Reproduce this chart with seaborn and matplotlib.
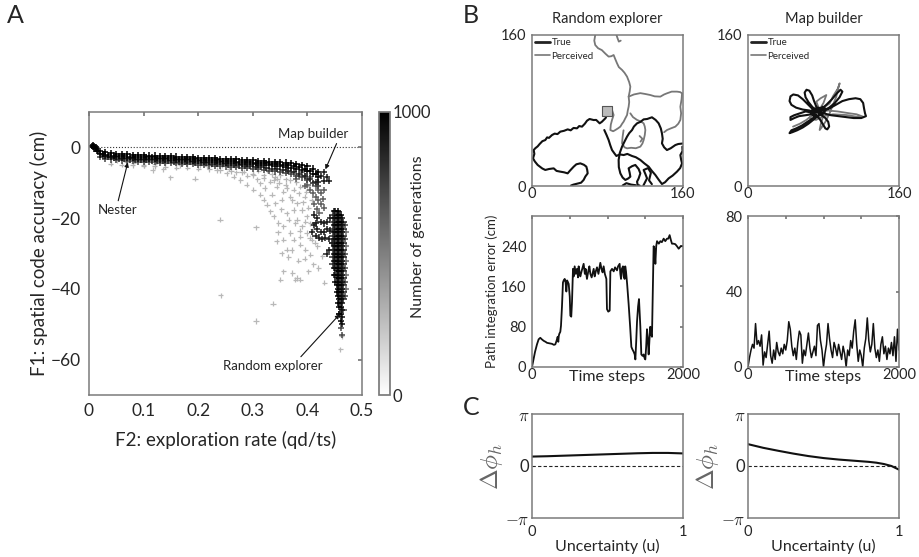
import numpy as np
import pandas as pd
import matplotlib
matplotlib.use("Agg")
import matplotlib.pyplot as plt
import seaborn as sns
from matplotlib.colors import Normalize
from matplotlib.cm import ScalarMappable
from matplotlib.lines import Line2D

# ---------------- DATA ----------------
# Panel A: ridge of the front (x every 0.01 from 0.02 to 0.42)
ridge_x = [0.02, 0.03, 0.04, 0.05, 0.06, 0.07, 0.08, 0.09, 0.10, 0.11, 0.12, 0.13, 0.14, 0.15,
           0.16, 0.17, 0.18, 0.19, 0.20, 0.21, 0.22, 0.23, 0.24, 0.25, 0.26, 0.27, 0.28, 0.29,
           0.30, 0.31, 0.32, 0.33, 0.34, 0.35, 0.36, 0.37, 0.38, 0.39, 0.40, 0.41, 0.42]
ridge_top = [-1.0, -1.4, -1.6, -1.8, -1.9, -2.0, -2.1, -2.2, -2.2, -2.3, -2.3, -2.4, -2.4, -2.5,
             -2.6, -2.7, -2.7, -2.8, -2.9, -3.0, -3.0, -3.1, -3.2, -3.3, -3.3, -3.4, -3.5, -3.6,
             -3.7, -3.8, -3.9, -4.0, -4.1, -4.2, -4.3, -4.5, -4.7, -5.0, -5.4, -6.0, -7.0]
ridge_mid = [-2.0, -2.4, -2.6, -2.8, -2.9, -3.0, -3.1, -3.2, -3.2, -3.3, -3.3, -3.4, -3.4, -3.5,
             -3.6, -3.7, -3.7, -3.8, -3.9, -4.0, -4.0, -4.1, -4.2, -4.3, -4.4, -4.5, -4.6, -4.7,
             -4.8, -4.9, -5.0, -5.1, -5.3, -5.4, -5.6, -5.8, -6.0, -6.3, -6.8, -7.5, -8.5]
ridge_low = [-2.8, -3.2, -3.4, -3.6, -3.7, -3.8, -3.9, -4.0, -4.0, -4.1, -4.2, -4.3, -4.3, -4.4,
             -4.5, -4.6, -4.7, -4.8, -4.9, -5.0, -5.1, -5.2, -5.3, -5.4, -5.5, -5.6, -5.8, -5.9,
             -6.0, -6.2, -6.4, -6.6, -6.8, -7.0, -7.3, -7.6, -8.0, -8.5, -9.2, -10.0, -11.0]
# intermediate ridge rows (x at half steps)
ridge_xh = [0.025, 0.035, 0.045, 0.055, 0.065, 0.075, 0.085, 0.095, 0.105, 0.115, 0.125, 0.135,
            0.145, 0.155, 0.165, 0.175, 0.185, 0.195, 0.205, 0.215, 0.225, 0.235, 0.245, 0.255,
            0.265, 0.275, 0.285, 0.295, 0.305, 0.315, 0.325, 0.335, 0.345, 0.355, 0.365, 0.375,
            0.385, 0.395, 0.405, 0.415]
ridge_h_up = [-1.8, -2.1, -2.3, -2.4, -2.5, -2.6, -2.7, -2.7, -2.8, -2.8, -2.9, -2.9, -3.0, -3.1,
              -3.2, -3.2, -3.3, -3.4, -3.5, -3.5, -3.6, -3.7, -3.8, -3.8, -3.9, -4.0, -4.1, -4.2,
              -4.3, -4.4, -4.5, -4.6, -4.8, -4.9, -5.1, -5.3, -5.6, -6.0, -6.6, -7.4]
ridge_h_lo = [-2.4, -2.8, -3.0, -3.2, -3.3, -3.4, -3.5, -3.6, -3.6, -3.7, -3.8, -3.8, -3.9, -4.0,
              -4.1, -4.2, -4.2, -4.3, -4.4, -4.5, -4.6, -4.7, -4.8, -4.9, -5.0, -5.1, -5.2, -5.3,
              -5.5, -5.6, -5.8, -6.0, -6.1, -6.4, -6.7, -7.0, -7.4, -8.0, -8.8, -9.8]
shadow_x = [0.04, 0.06, 0.08, 0.10, 0.12, 0.14, 0.16, 0.18, 0.20, 0.22, 0.24, 0.26, 0.28, 0.30,
            0.32, 0.34, 0.36, 0.38, 0.40]
shadow_y = [-4.6, -4.9, -5.1, -5.2, -5.4, -5.5, -5.7, -5.8, -6.0, -6.2, -6.4, -6.7, -7.0, -7.4,
            -7.9, -8.4, -9.0, -9.8, -10.8]
hook_pts = [(0.005, 0.5), (0.008, 0.7), (0.010, 0.4), (0.012, 0.0), (0.013, -0.5),
            (0.015, -0.9), (0.010, -0.3), (0.007, 0.2), (0.017, -1.1)]
light_pts = [(0.117, -6.4), (0.136, -6.2), (0.149, -8.5), (0.194, -8.9), (0.179, -4.5),
             (0.216, -5.4), (0.234, -6.4), (0.252, -7.3), (0.265, -8.3), (0.277, -9.2),
             (0.289, -10.6), (0.301, -12.0), (0.314, -13.4), (0.320, -14.8), (0.326, -16.2),
             (0.332, -18.1), (0.338, -19.5), (0.347, -21.4), (0.356, -22.3), (0.369, -24.2),
             (0.375, -26.1), (0.387, -27.5), (0.396, -28.9), (0.405, -30.3), (0.356, -26.1),
             (0.362, -28.9), (0.344, -26.6), (0.353, -29.9), (0.372, -35.5), (0.381, -36.9),
             (0.350, -37.4), (0.356, -35.0), (0.378, -37.4), (0.387, -37.4), (0.431, -38.3),
             (0.240, -20.5), (0.306, -22.6), (0.241, -41.8), (0.306, -49.1), (0.337, -44.2),
             (0.268, -5.4), (0.283, -6.9), (0.301, -7.8), (0.320, -8.7), (0.332, -9.7),
             (0.344, -11.1), (0.356, -12.5), (0.369, -13.9), (0.381, -15.8), (0.390, -17.7),
             (0.399, -19.5), (0.375, -17.7), (0.362, -18.6), (0.381, -20.5), (0.390, -22.3),
             (0.399, -24.2), (0.408, -26.1), (0.418, -28.0), (0.387, -25.2), (0.295, -5.4),
             (0.326, -6.4), (0.350, -7.8), (0.369, -9.2), (0.387, -11.1), (0.338, -9.2),
             (0.314, -10.1), (0.353, -14.8), (0.341, -15.8), (0.335, -13.4), (0.069, -4.0),
             (0.081, -4.5), (0.051, -3.6), (0.100, -5.0), (0.167, -5.0), (0.204, -5.0),
             (0.411, -33.1), (0.420, -34.1), (0.427, -30.8), (0.460, -57.1), (0.463, -53.3),
             (0.310, -6.6), (0.345, -8.8), (0.360, -10.5), (0.375, -12.0), (0.395, -14.0),
             (0.405, -21.5), (0.395, -31.5), (0.402, -35.0), (0.365, -31.0), (0.383, -32.0),
             (0.335, -7.5), (0.348, -10.0), (0.362, -11.5), (0.372, -15.0), (0.384, -13.0),
             (0.392, -15.5), (0.398, -12.5), (0.402, -17.0), (0.408, -15.0), (0.396, -21.0),
             (0.386, -23.5), (0.378, -21.5), (0.366, -20.5), (0.352, -17.5), (0.410, -23.0),
             (0.414, -27.0), (0.404, -25.5), (0.371, -29.0), (0.346, -24.0), (0.322, -11.5),
             (0.308, -9.0), (0.290, -8.0), (0.256, -6.0), (0.270, -7.0), (0.224, -4.8),
             (0.244, -5.2), (0.140, -4.5), (0.160, -4.8), (0.120, -4.7)]
mid_pts = [(0.390, -7.0), (0.395, -8.0), (0.400, -9.0), (0.405, -8.5), (0.410, -10.0),
           (0.415, -11.0), (0.420, -12.0), (0.410, -13.0), (0.415, -14.0), (0.420, -15.0),
           (0.425, -16.0), (0.430, -17.0), (0.405, -12.0), (0.400, -10.5), (0.418, -17.5),
           (0.425, -13.0), (0.430, -12.0), (0.385, -8.0), (0.370, -7.0), (0.360, -6.5),
           (0.380, -9.0), (0.395, -11.0), (0.422, -18.5), (0.428, -14.5), (0.412, -16.0)]
dark_pts = [(0.412, -19.0), (0.418, -20.0), (0.424, -21.0), (0.430, -21.5), (0.436, -21.0),
            (0.442, -20.0), (0.412, -22.0), (0.418, -23.0), (0.424, -24.0), (0.430, -24.0),
            (0.436, -23.0), (0.442, -23.5), (0.415, -25.0), (0.421, -25.5), (0.427, -26.0),
            (0.433, -25.5), (0.439, -26.0), (0.445, -27.0), (0.440, -29.0), (0.435, -30.0),
            (0.415, -21.5), (0.409, -24.0), (0.430, -7.0), (0.435, -8.5), (0.430, -9.5),
            (0.440, -9.5), (0.425, -8.0), (0.420, -9.8)]
# Random-explorer cluster: y values of each column
clu_446 = [-19, -21, -23, -25, -27, -29, -31, -33]
clu_4485 = [-18, -20, -22, -24, -26, -28, -30, -32, -34, -36]
clu_451 = [-18, -20, -22, -24, -26, -28, -30, -32, -34, -36, -38]
clu_4535 = [-19, -21, -23, -25, -27, -29, -31, -33, -35, -37, -39, -41]
clu_456 = [-18, -20, -22, -24, -26, -28, -30, -32, -34, -36, -38, -40, -42, -44]
clu_4585 = [-19, -21, -23, -25, -27, -29, -31, -33, -35, -37, -39, -41, -43, -45, -47]
clu_461 = [-19, -21, -23, -25, -27, -29, -31, -33, -35, -37, -39, -41, -43, -45, -47, -49]
clu_4635 = [-20, -22, -24, -26, -28, -30, -32, -34, -36, -38, -40, -42, -44, -46, -48, -50]
clu_466 = [-21, -23, -25, -27, -29, -31, -33, -35, -37, -39, -41, -43]
clu_4685 = [-22, -26, -30, -34, -38, -42]
clu_471 = [-24, -28, -32, -36, -40]
clu_tail = [(0.462, -51.0), (0.463, -53.0), (0.458, -47.0), (0.466, -46.0)]

# Panel B (top): trajectories (x, y) in cm
re_true_segs = [
    [(80, 77), (78, 72), (74, 68), (71.7, 66.4), (68, 70), (65.3, 69.9), (61, 71), (58.3, 69.2),
     (56, 66), (53, 62.9), (50, 63.5), (47.7, 61.1), (44, 61.5), (41, 59), (37.8, 60), (34, 58.5),
     (30, 57.6), (27, 55), (24, 55.5), (21.2, 54), (18, 51), (16, 51.5), (14.1, 48.7), (11, 47.5),
     (8.1, 44.5), (6, 42), (3.5, 40), (1.8, 38.1), (2.5, 34), (1.1, 29.3), (3, 26), (6, 22.3),
     (9, 20), (11, 18.5), (14.1, 17), (18, 18), (23, 18.7), (26, 16), (30, 15.2), (34, 14.5),
     (37.8, 13.4), (40, 16), (44.2, 20.5), (47, 23), (51.2, 24), (55, 22.5), (57.6, 20.5),
     (58.5, 17), (59, 13.4), (56.5, 10), (54.7, 6.4), (52, 3.5), (48, 2.5), (44, 1.5), (41.3, 0.5)],
    [(76.6, 59.3), (79, 54), (81.2, 48.7), (83, 43), (84.8, 38.1), (87, 35), (89.4, 31.8),
     (93, 33.5), (97.1, 32.8), (101, 34), (106, 31.8), (110, 30.5), (114.8, 27.6), (119, 24),
     (123.6, 20.5), (127, 16), (130.7, 11.7), (134, 7), (137.7, 2.1), (141, 4), (144.8, 8.1),
     (149, 11), (153.6, 15.2), (157, 19), (159, 24), (158, 28), (157.2, 32.8), (159.5, 37),
     (159.3, 41.7)],
    [(159.5, 45), (155, 44.5), (151.9, 43.4), (147, 40), (143, 38.1), (140, 41), (137.7, 45.2),
     (138.5, 50), (137.7, 55.8), (136.5, 61), (134.2, 66.4), (131, 70), (127.1, 72.8), (122, 71),
     (118.3, 70.6), (115, 68), (111.3, 66.4), (108, 63), (106, 59.3), (103, 56), (100.7, 52.3),
     (98, 47), (95.4, 41.7), (93, 35), (91.8, 27.6), (92, 20), (93.6, 13.4), (96, 9), (98.9, 6.4),
     (102, 8), (104.2, 9.9), (103.5, 14), (102.4, 18.7), (106, 21), (109.5, 22.3), (113, 18),
     (114.8, 13.4), (113, 8), (111.3, 4.6), (112, 1), (114, 0.5)],
    [(96, 0.5), (100, 3), (105, 1.5), (110, 0.8)],
    [(118, 0.5), (121.9, 8.1), (120, 13), (118.3, 17), (123, 19), (126, 14), (124, 6), (127, 2)],
]
re_perc_segs = [
    [(79.5, 78.8), (82, 80), (84.8, 80.5), (86.5, 75.2), (84.8, 70), (83.5, 65), (83, 59.3),
     (86, 58), (88.3, 59.3), (91, 61), (93.6, 62.9), (95.5, 66), (97.1, 68.2), (99, 72),
     (100.7, 75.2), (101.5, 80), (102.4, 84), (103, 89), (102.4, 94.7), (103.5, 100),
     (104.2, 105.3), (103, 110), (100.7, 115.9), (98, 120), (95.4, 123), (92, 126), (90.1, 130),
     (88, 135), (86.5, 138.8), (84, 137.5), (81.2, 137.1), (78, 140), (74, 144), (70, 146),
     (67, 149.4), (66, 154), (67, 160)],
    [(102.4, 94.7), (108, 97), (114.8, 98.4), (120, 97.5), (125.4, 96.4), (130, 95), (136, 94.7),
     (140, 97), (143, 98.2), (148, 100), (153.6, 100), (157, 99.5), (159, 98.2), (158.5, 92),
     (157.2, 84), (158, 77), (157.2, 70), (155, 66), (151.9, 62.9), (147, 61), (143, 59.3),
     (140, 57)],
    [(97, 59), (96, 52), (95.4, 45.2), (98, 41), (100.7, 39.9), (105, 40.5), (110, 40),
     (114.8, 41.7), (117, 45), (118.3, 48.7), (119.5, 54), (120.1, 59.3), (119.5, 63),
     (118.3, 66.4), (115, 68.5), (111.3, 70), (107, 73), (104.2, 77)],
    [(115, 47), (117, 50), (114, 53)],
    [(89.5, 160), (90.5, 157), (92, 153), (94, 154)],
]
re_start = [(79.5, 79.0)]
mb_true = [(72, 78), (68, 82), (63, 87), (58, 92), (53, 96), (48, 97), (45, 95), (44, 90),
           (46, 86), (51, 83), (58, 81), (65, 80), (72, 78), (77, 81), (83, 86), (89, 92),
           (94, 98), (98, 102), (100, 100), (97, 94), (92, 88), (86, 83), (80, 80), (86, 82),
           (93, 86), (100, 90), (107, 92), (114, 93), (119, 92), (122, 88), (123, 82), (124, 77),
           (125, 74), (120, 72), (112, 72), (104, 73), (96, 74), (88, 75), (80, 77), (74, 74),
           (69, 70), (64, 66), (58, 62), (52, 59), (47, 57), (44, 56), (46, 59), (51, 61),
           (57, 64), (63, 68), (69, 72), (72, 75), (67, 76), (61, 75), (54, 74), (49, 72),
           (45, 70), (45, 73), (49, 75), (55, 77), (61, 79), (67, 78), (72, 75), (76, 71),
           (79, 66), (82, 61), (84, 60), (86, 63), (85, 68), (82, 72), (78, 75), (75, 80),
           (72, 85), (70, 90), (68, 96), (65, 101), (62, 102), (60, 99), (61, 94), (64, 89),
           (68, 84), (71, 81), (74, 80), (77, 82), (79, 84), (82, 82), (81, 78), (78, 76),
           (75, 77), (72, 80), (69, 81), (67, 79), (68, 76), (71, 74), (75, 75), (78, 78),
           (78, 81), (75, 83), (72, 82), (70, 79)]
mb_perc = [(47.7, 62.9), (55, 66), (61.8, 70), (68, 75), (75.9, 78.8), (80, 83), (86.5, 87.5),
           (90, 95), (95.4, 103.5), (97.1, 108.8), (95, 102), (93.6, 94.7), (90, 86), (86.5, 77),
           (82, 68), (78, 62), (75.9, 59.3), (77, 65), (79.5, 73.5), (76, 80), (72.4, 89.4),
           (77, 93), (83, 96.4), (80, 88), (75, 80), (70, 76), (65, 72), (72, 70), (80, 74),
           (90, 76), (104.2, 75.2), (115, 73.5), (121.9, 73.5), (115, 76), (107.7, 77), (95, 79),
           (85, 80), (75, 78), (68, 80), (72, 84), (78, 77), (73, 74)]

# Panel B (bottom): path integration error (time step, cm)
re_err = [(0, 0), (20, 15), (40, 30), (66, 45), (88, 55), (110, 58), (130, 55), (155, 52),
          (180, 50), (199, 48), (230, 47), (265, 46), (290, 44), (309, 45), (325, 52), (340, 60),
          (348, 50), (355, 62), (362, 66), (375, 70), (384, 82), (397, 120), (410, 168),
          (420, 172), (433, 175), (445, 168), (455, 150), (465, 172), (472, 170), (486, 165),
          (500, 140), (508, 102), (520, 100), (530, 130), (543, 195), (552, 180), (565, 200),
          (580, 185), (596, 195), (610, 178), (618, 200), (630, 188), (640, 180), (660, 192),
          (684, 205), (700, 185), (710, 195), (728, 175), (745, 190), (760, 200), (773, 185),
          (790, 178), (817, 195), (830, 180), (845, 190), (861, 198), (880, 185), (905, 207),
          (920, 195), (935, 188), (949, 200), (965, 185), (985, 175), (990, 140), (993, 115),
          (1010, 110), (1029, 112), (1034, 150), (1038, 190), (1060, 195), (1082, 190),
          (1100, 198), (1126, 192), (1140, 200), (1161, 205), (1170, 185), (1179, 175),
          (1190, 195), (1205, 200), (1215, 180), (1227, 175), (1235, 200), (1245, 190),
          (1260, 165), (1280, 125), (1300, 80), (1316, 40), (1330, 35), (1347, 30), (1360, 25),
          (1369, 15), (1380, 50), (1391, 90), (1405, 120), (1417, 135), (1425, 110), (1435, 80),
          (1442, 50), (1448, 25), (1465, 22), (1479, 25), (1490, 18), (1501, 15), (1512, 40),
          (1523, 75), (1535, 55), (1545, 25), (1556, 55), (1567, 80), (1578, 65), (1589, 60),
          (1600, 150), (1611, 240), (1622, 235), (1634, 205), (1645, 240), (1656, 250),
          (1680, 245), (1700, 250), (1720, 248), (1744, 255), (1765, 250), (1788, 255),
          (1805, 255), (1823, 262), (1840, 252), (1854, 245), (1875, 245), (1898, 244),
          (1920, 240), (1943, 235), (1970, 240), (2000, 240)]
mb_err_t = list(range(0, 2001, 20))
mb_err = [0, 5, 9, 12, 10, 23, 12, 14, 11, 17, 1, 8, 5, 12, 19, 6, 2, 9, 4, 13,
          8, 6, 10, 7, 12, 9, 14, 24, 20, 11, 6, 10, 4, 13, 19, 17, 2, 9, 6, 12,
          18, 10, 5, 8, 11, 6, 22, 23, 14, 9, 0, 7, 12, 23, 15, 9, 5, 13, 10, 6,
          12, 8, 4, 11, 7, 0, 9, 6, 14, 10, 19, 25, 12, 3, 9, 6, 0, 10, 15, 26,
          14, 8, 12, 23, 10, 5, 9, 3, 12, 16, 7, 11, 4, 10, 7, 13, 6, 16, 3, 20, 9]

# Panel C: heading change vs uncertainty
unc_re = [0.0, 0.1, 0.2, 0.3, 0.4, 0.5, 0.6, 0.7, 0.8, 0.9, 1.0]
dphi_re = [0.57, 0.59, 0.62, 0.65, 0.68, 0.71, 0.74, 0.77, 0.79, 0.79, 0.76]
unc_mb = [0.0, 0.1, 0.2, 0.3, 0.4, 0.5, 0.6, 0.7, 0.8, 0.85, 0.9, 0.95, 1.0]
dphi_mb = [1.32, 1.10, 0.92, 0.75, 0.60, 0.48, 0.39, 0.32, 0.25, 0.20, 0.12, 0.0, -0.22]

# ---------------- FIGURE ----------------
sns.set_theme(style="white")
plt.rcParams['font.family'] = ['Lato', 'DejaVu Sans']
plt.rcParams['mathtext.fontset'] = 'cm'

W, H = 919, 557
fig = plt.figure(figsize=(W / 100, H / 100), dpi=100)

def box(l, t, r, b):
    return [l / W, 1 - b / H, (r - l) / W, (b - t) / H]

SPINE = '#7a7a7a'
def style(ax):
    for s in ax.spines.values():
        s.set_color(SPINE)
        s.set_linewidth(1.1)
        s.set_visible(True)

# ---- Panel A
light_rows = [(x, y, 280) for x, y in light_pts]
light_rows += [(x, y, 300) for x, y in zip(shadow_x, shadow_y)]
rows = []
for x, y in mid_pts:
    rows.append((x, y, 620))
for x, y in zip(ridge_x, ridge_low):
    rows.append((x, y, 720))
for x, y in zip(ridge_xh, ridge_h_lo):
    rows.append((x, y, 860))
for x, y in dark_pts:
    rows.append((x, y, 880))
for x, y in zip(ridge_x, ridge_mid):
    rows.append((x, y, 960))
for x, y in zip(ridge_xh, ridge_h_up):
    rows.append((x, y, 990))
for x, y in zip(ridge_x, ridge_top):
    rows.append((x, y, 1000))
for x, y in hook_pts:
    rows.append((x, y, 1000))
for cx, ys, g in [(0.446, clu_446, 820), (0.4485, clu_4485, 900), (0.451, clu_451, 960),
                  (0.4535, clu_4535, 990), (0.456, clu_456, 1000), (0.4585, clu_4585, 1000),
                  (0.461, clu_461, 980), (0.4635, clu_4635, 930), (0.466, clu_466, 860),
                  (0.4685, clu_4685, 720), (0.471, clu_471, 560)]:
    for y in ys:
        rows.append((cx, y, g))
for x, y in clu_tail:
    rows.append((x, y, 700))
dfL = pd.DataFrame(light_rows, columns=['x', 'y', 'gen'])
dfA = pd.DataFrame(rows, columns=['x', 'y', 'gen']).sort_values('gen', kind='stable')

axA = fig.add_axes(box(89, 112, 362, 395))
sns.scatterplot(data=dfL, x='x', y='y', hue='gen', palette='gray_r', hue_norm=(0, 1000),
                marker='+', s=14, linewidth=0.9, legend=False, ax=axA)
sns.scatterplot(data=dfA, x='x', y='y', hue='gen', palette='gray_r', hue_norm=(0, 1000),
                marker='+', s=20, linewidth=1.1, legend=False, ax=axA)
axA.axhline(0, ls=':', color='#333333', lw=0.8, zorder=0)
axA.set_xlim(0, 0.5)
axA.set_ylim(-70, 10)
axA.set_xticks([0, 0.1, 0.2, 0.3, 0.4, 0.5])
axA.set_xticklabels(['0', '0.1', '0.2', '0.3', '0.4', '0.5'])
axA.set_yticks([0, -20, -40, -60])
axA.tick_params(direction='in', top=True, right=True, length=3, color=SPINE,
                labelsize=12.5, pad=6)
axA.set_xlabel('F2: exploration rate (qd/ts)', fontsize=13.5, labelpad=8)
axA.set_ylabel('F1: spatial code accuracy (cm)', fontsize=13.5, labelpad=2)
style(axA)
arr = dict(arrowstyle='-|>', color='#111111', lw=0.8, mutation_scale=6, shrinkA=0, shrinkB=0)
axA.annotate('Map builder', xy=(0.433, -6.2), xytext=(0.411, 3.7), fontsize=9.5,
             ha='center', va='center', arrowprops=dict(arr, relpos=(0.85, 0.0)))
axA.annotate('Nester', xy=(0.071, -4.3), xytext=(0.052, -17.7), fontsize=9.5,
             ha='center', va='center', arrowprops=dict(arr, relpos=(0.5, 1.0)))
axA.annotate('Random explorer', xy=(0.459, -47.2), xytext=(0.337, -61.8), fontsize=9.5,
             ha='center', va='center', arrowprops=dict(arr, relpos=(0.75, 1.0)))

cax = fig.add_axes(box(379, 112, 390, 395))
cb = fig.colorbar(ScalarMappable(norm=Normalize(0, 1000), cmap='gray_r'), cax=cax)
cb.set_ticks([0, 1000])
cb.ax.tick_params(length=0, labelsize=12, pad=2)
cb.outline.set_edgecolor(SPINE)
fig.text(418 / W, 1 - 237 / H, 'Number of generations', rotation=90, fontsize=11.5,
         ha='center', va='center')

# ---- Panel B top
def traj(ax, true_segs, perc_segs, start=None, title=''):
    recs = []
    for i, seg in enumerate(perc_segs):
        for x, y in seg:
            recs.append(('Perceived', i, x, y))
    for i, seg in enumerate(true_segs):
        for x, y in seg:
            recs.append(('True', i, x, y))
    df = pd.DataFrame(recs, columns=['kind', 'seg', 'x', 'y'])
    sns.lineplot(data=df[df.kind == 'Perceived'], x='x', y='y', units='seg', estimator=None,
                 sort=False, color='#777777', lw=1.3, ax=ax)
    sns.lineplot(data=df[df.kind == 'True'], x='x', y='y', units='seg', estimator=None,
                 sort=False, color='#111111', lw=1.5, ax=ax)
    if start is not None:
        sdf = pd.DataFrame(start, columns=['x', 'y'])
        sns.scatterplot(data=sdf, x='x', y='y', marker='s', s=55, color='#bbbbbb',
                        edgecolor='#555555', linewidth=0.8, ax=ax, zorder=5, legend=False)
    ax.set_xlim(0, 160)
    ax.set_ylim(0, 160)
    ax.set_xticks([0, 160])
    ax.set_yticks([0, 160])
    ax.tick_params(axis='x', length=0, labelsize=10.5, pad=1)
    ax.tick_params(axis='y', length=0, labelsize=10.5, pad=4)
    ax.set_xlabel('')
    ax.set_ylabel('')
    ax.set_title(title, fontsize=10.5, pad=9)
    h = [Line2D([], [], color='#222222', lw=2.0), Line2D([], [], color='#777777', lw=1.2)]
    ax.legend(h, ['True', 'Perceived'], loc='upper left', fontsize=7, frameon=False,
              handlelength=1.6, handletextpad=0.1, borderaxespad=0.1, labelspacing=0.5,
              borderpad=0.2)
    style(ax)

axB1 = fig.add_axes(box(532, 35, 683, 186))
traj(axB1, re_true_segs, re_perc_segs, re_start, 'Random explorer')
axB2 = fig.add_axes(box(748, 35, 899, 186))
traj(axB2, [mb_true], [mb_perc], None, 'Map builder')

# ---- Panel B bottom
axB3 = fig.add_axes(box(532, 216, 683, 367))
dre = pd.DataFrame(re_err, columns=['t', 'err'])
sns.lineplot(data=dre, x='t', y='err', estimator=None, sort=False, color='#111111', lw=1.3,
             ax=axB3)
axB3.set_xlim(0, 2000)
axB3.set_ylim(0, 300)
axB3.set_yticks([0, 80, 160, 240])
axB3.set_ylabel('Path integration error (cm)', fontsize=9.5, labelpad=2)

axB4 = fig.add_axes(box(748, 216, 899, 367))
dmb = pd.DataFrame({'t': mb_err_t, 'err': mb_err})
sns.lineplot(data=dmb, x='t', y='err', estimator=None, sort=False, color='#111111', lw=1.1,
             ax=axB4)
axB4.set_xlim(0, 2000)
axB4.set_ylim(0, 80)
axB4.set_yticks([0, 40, 80])
axB4.set_ylabel('')
for ax in (axB3, axB4):
    ax.set_xticks([0, 500, 1000, 1500, 2000])
    ax.set_xticklabels(['0', '', '', '', '2000'])
    ax.tick_params(direction='in', top=True, right=True, length=2.5, color=SPINE,
                   labelsize=10.5)
    ax.tick_params(axis='x', pad=1)
    ax.tick_params(axis='y', pad=4)
    ax.set_xlabel('Time steps', fontsize=11.5, labelpad=-9)
    style(ax)

# ---- Panel C
for l, r, u, d in [(532, 683, unc_re, dphi_re), (748, 899, unc_mb, dphi_mb)]:
    ax = fig.add_axes(box(l, 414, r, 518))
    dc = pd.DataFrame({'u': u, 'dphi': d})
    sns.lineplot(data=dc, x='u', y='dphi', color='#111111', lw=1.5, ax=ax)
    ax.axhline(0, ls='--', color='#222222', lw=0.8, dashes=(3, 2))
    ax.set_xlim(0, 1)
    ax.set_ylim(-np.pi, np.pi)
    ax.set_yticks([-np.pi, 0, np.pi])
    ax.set_yticklabels([r'$\mathbf{-}\pi$', '0', r'$\pi$'])
    ax.set_xticks([0, 1])
    ax.tick_params(axis='x', length=0, labelsize=10.5, pad=5)
    ax.tick_params(axis='y', length=0, labelsize=12, pad=2)
    ax.set_xlabel('Uncertainty (u)', fontsize=11.5, labelpad=0)
    ax.set_ylabel(r'$\Delta\phi_h$', fontsize=18, color='#666666', labelpad=0)
    style(ax)

# ---- Panel letters
fig.text(7 / W, 1 - 4 / H, 'A', fontsize=18, va='top', ha='left')
fig.text(463 / W, 1 - 4 / H, 'B', fontsize=18, va='top', ha='left')
fig.text(463 / W, 1 - 396 / H, 'C', fontsize=18, va='top', ha='left')

fig.savefig('out.png', dpi=100)
